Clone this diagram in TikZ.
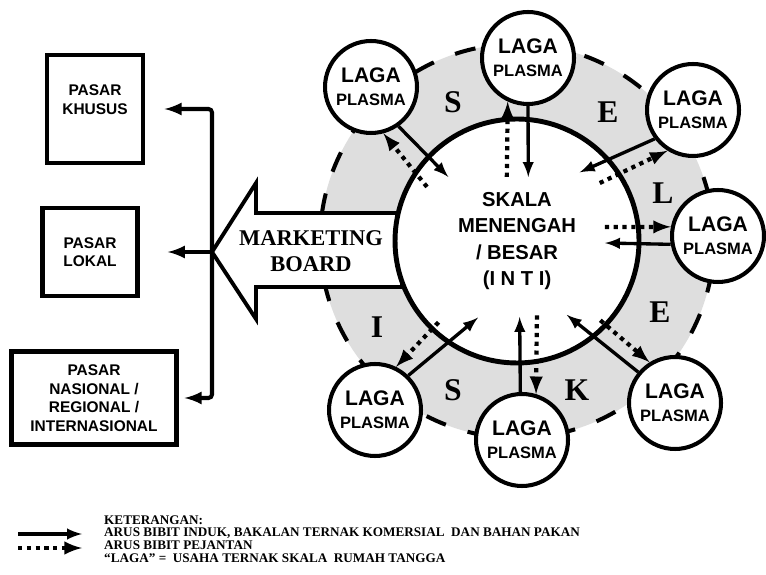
\documentclass[tikz,border=0pt]{standalone}
\usepackage{fontspec}
\setmainfont{Liberation Serif}
\setsansfont{Liberation Sans}
\usetikzlibrary{arrows,calc}
\newcommand{\lagatxt}{LAGA\\{\fontsize{9.4}{13}\selectfont PLASMA}}

\begin{document}
\begin{tikzpicture}[>=latex, x=0.02cm, y=0.02cm]
	\tikzstyle{laga}=[circle, draw, line width=2.3pt, fill=white, minimum size=1.84cm, inner sep=0pt, align=center, font=\sffamily\bfseries\fontsize{12}{13}\selectfont]
	\tikzstyle{pasar}=[draw, line width=2.5pt, align=center, inner sep=0pt, font=\sffamily\bfseries\fontsize{8.8}{10.6}\selectfont]
	\tikzstyle{supply}=[->, line width=1.9pt]
	\tikzstyle{sire}=[->, line width=2.4pt, dash pattern=on 2.4pt off 2.6pt]
	\tikzstyle{market}=[->, line width=2.3pt, rounded corners=2pt]
	\tikzstyle{seleksi}=[font=\bfseries\fontsize{18}{18}\selectfont]

	\useasboundingbox (0,0) rectangle (766,574);

	\fill [black!13, even odd rule] (517,333) circle (197) (517,333) circle (122);
	\draw [line width=2.3pt, dash pattern=on 12pt off 13pt] (517,333) circle (197);

	\draw [line width=2.2pt, fill=white] (212,322) -- (256,391) -- (256,361) -- (402,361) -- (402,287) -- (256,287) -- (256,255) -- cycle;
	\node (mboard) [font=\bfseries\fontsize{12.8}{15}\selectfont, align=center] at (311,323) {MARKETING\\BOARD};
	\coordinate (mtip) at (212,322);

	\node (inti) [circle, draw, line width=2.8pt, fill=white, minimum size=4.88cm, align=center, font=\sffamily\bfseries\fontsize{11.5}{15}\selectfont] at (517,333) {SKALA\\MENENGAH\\/ BESAR\\(I N T I)};

	\node (khusus) [pasar, minimum width=1.92cm, minimum height=2.16cm] at (95,465) {PASAR\\KHUSUS\\\mbox{}};
	\node (lokal) [pasar, minimum width=1.9cm, minimum height=1.76cm] at (90,322) {PASAR\\LOKAL};
	\node (nasional) [pasar, minimum width=3.3cm, minimum height=1.86cm] at (94,176) {PASAR\\NASIONAL /\\REGIONAL /\\INTERNASIONAL};

	\draw [market, shorten >=11pt] (mtip) |- (khusus.east);
	\draw [market, shorten >=16pt] (mtip) -- (mtip -| lokal.east);
	\draw [market, shorten >=3.4pt] (mtip) |- (nasional.east);

	\node (lul) [laga] at (371,487) {\lagatxt};
	\node (ltop) [laga] at (528,516) {\lagatxt};
	\node (lur) [laga] at (693,464) {\lagatxt};
	\node (lr) [laga] at (718,338) {\lagatxt};
	\node (llr) [laga] at (675,171) {\lagatxt};
	\node (lb) [laga] at (522,134) {\lagatxt};
	\node (lll) [laga] at (375,164) {\lagatxt};

	\node (selS) [seleksi] at (453,472) {S};
	\node (selE) [seleksi] at (608,462) {E};
	\node (selL) [seleksi] at (663,381) {L};
	\node (selEE) [seleksi] at (660,262) {E};
	\node (selK) [seleksi] at (577,184) {K};
	\node (selSS) [seleksi] at (453,184) {S};
	\node (selI) [seleksi] at (377,247) {I};

	\draw [supply] (lul.-55) -- ($(inti)+(137:94)$);
	\draw [sire] ($(inti)+(149:105)$) -- (lul.-75);
	\draw [supply] (ltop.-90) -- ($(inti)+(80:65)$);
	\draw [sire] ($(inti)+(99:65)$) -- (ltop.-115);
	\draw [supply] (lur.217) -- ($(inti)+(47.6:93)$);
	\draw [sire] ($(inti)+(35:101)$) -- (lur.238);
	\draw [sire] ($(inti)+(9:89)$) -- (lr.169);
	\draw [supply] (lr.190) -- ($(inti)+(-1.3:88)$);
	\draw [supply] (llr.140) -- ($(inti)+(-56:89)$);
	\draw [sire] ($(inti)+(-43.6:115)$) -- (llr.122);
	\draw [supply] (lb.92) -- ($(inti)+(-88:76)$);
	\draw [sire] ($(inti)+(-75:77)$) -- (lb.73);
	\draw [supply] (lll.46) -- ($(inti)+(-117:86)$);
	\draw [sire] ($(inti)+(-134:113)$) -- (lll.64);

	\coordinate (lgsolid) at (18,40);
	\coordinate (lgdot) at (18,26);
	\draw [supply] (lgsolid) -- ++(64,0);
	\draw [sire] (lgdot) -- ++(64,0);
	\node (ket) [anchor=west, align=left, font=\bfseries\fontsize{7.5}{7.2}\selectfont] at (98,35) {KETERANGAN:\\ARUS BIBIT INDUK, BAKALAN TERNAK KOMERSIAL\ \ DAN BAHAN PAKAN\\ARUS BIBIT PEJANTAN\\``LAGA'' = \ USAHA TERNAK SKALA\ \ RUMAH TANGGA};
\end{tikzpicture}
\end{document}
